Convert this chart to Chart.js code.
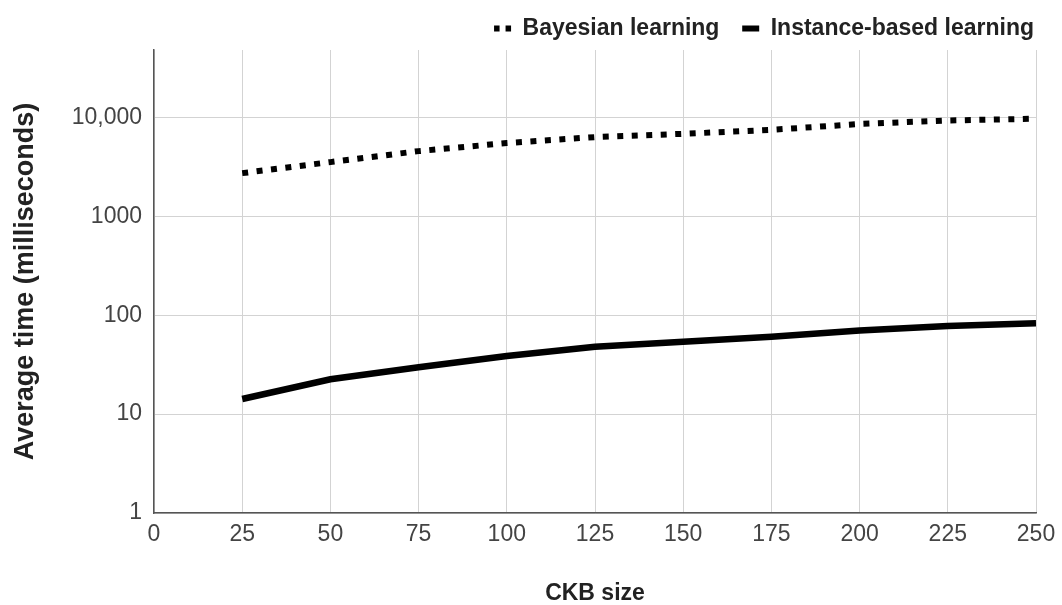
<!DOCTYPE html>
<html>
<head>
<meta charset="utf-8">
<script src="https://cdn.jsdelivr.net/npm/chart.js@4.4.0/dist/chart.umd.min.js"></script>
<style>
  html, body { margin: 0; padding: 0; background: #fff; }
  #wrap { width: 1062px; height: 605px; }
</style>
</head>
<body>
<div id="wrap"><canvas id="myChart" width="1062" height="605"></canvas></div>
<script>
// data
const ckbSizes = [25, 50, 75, 100, 125, 150, 175, 200, 225, 250];
const bayesian = [2730, 3530, 4560, 5500, 6320, 6820, 7480, 8580, 9300, 9700];
const instanceBased = [14.2, 22.5, 29.7, 38.6, 48, 54, 60.6, 70, 77.8, 82.8];
const yTicks = [1, 10, 100, 1000, 10000];
const yTickLabels = ['1', '10', '100', '1000', '10,000'];
const xTicks = [0, 25, 50, 75, 100, 125, 150, 175, 200, 225, 250];

const FONT = "'Liberation Sans', Arial, sans-serif";

const ctx = document.getElementById('myChart');

new Chart(ctx, {
  type: 'line',
  data: {
    datasets: [{
      label: 'Bayesian learning  ',
      data: ckbSizes.map((x, i) => ({ x: x, y: bayesian[i] })),
      borderColor: '#000',
      backgroundColor: '#000',
      borderWidth: 6,
      borderDash: [6, 8.5],
      borderCapStyle: 'butt',
      pointRadius: 0,
      pointStyle: 'line',
      tension: 0
    },
    {
      label: 'Instance-based learning',
      data: ckbSizes.map((x, i) => ({ x: x, y: instanceBased[i] })),
      borderColor: '#000',
      backgroundColor: '#000',
      borderWidth: 6.5,
      pointRadius: 0,
      pointStyle: 'line',
      tension: 0
    }]
  },
  options: {
    responsive: false,
    animation: false,
    layout: {
      padding: { top: 0, right: 18, bottom: 0, left: 0 }
    },
    plugins: {
      tooltip: { enabled: false },
      legend: {
        position: 'top',
        align: 'end',
        labels: {
          usePointStyle: true,
          pointStyleWidth: 17,
          padding: 10,
          color: '#222',
          font: { family: FONT, size: 23, weight: 'bold' },
          generateLabels: function (chart) {
            const items = Chart.defaults.plugins.legend.labels.generateLabels(chart);
            items.forEach(function (it, i) {
              it.lineWidth = 6;
              it.lineDash = i === 0 ? [5.5, 6] : [];
            });
            return items;
          }
        }
      }
    },
    scales: {
      x: {
        type: 'linear',
        min: 0,
        max: 250,
        afterBuildTicks: function (scale) {
          scale.ticks = xTicks.map(v => ({ value: v }));
        },
        afterFit: function (scale) {
          scale.height = 92;
          scale.paddingRight = 26;
        },
        grid: { color: '#d3d3d3', lineWidth: 1, drawTicks: false },
        border: { display: true, color: '#555', width: 1.5 },
        ticks: {
          padding: 8,
          color: '#444',
          font: { family: FONT, size: 23 },
          maxRotation: 0
        },
        title: {
          display: true,
          text: 'CKB size',
          color: '#222',
          padding: { top: 0, bottom: 0 },
          font: { family: FONT, size: 23, weight: 'bold', lineHeight: 1 }
        }
      },
      y: {
        type: 'logarithmic',
        min: 1,
        max: 48000,
        afterBuildTicks: function (scale) {
          scale.ticks = yTicks.map(v => ({ value: v }));
        },
        afterFit: function (scale) {
          scale.width = 154;
          scale.paddingTop = 50;
        },
        grid: { color: '#d3d3d3', lineWidth: 1, drawTicks: false },
        border: { display: true, color: '#555', width: 1.5 },
        ticks: {
          padding: 12,
          color: '#444',
          font: { family: FONT, size: 23 },
          callback: function (value) {
            const k = yTicks.indexOf(value);
            return k >= 0 ? yTickLabels[k] : '';
          }
        },
        title: {
          display: true,
          text: 'Average time (milliseconds)',
          color: '#222',
          padding: { top: 9, bottom: 0 },
          font: { family: FONT, size: 27, weight: 'bold', lineHeight: 1.2 }
        }
      }
    }
  }
});
</script>
</body>
</html>
